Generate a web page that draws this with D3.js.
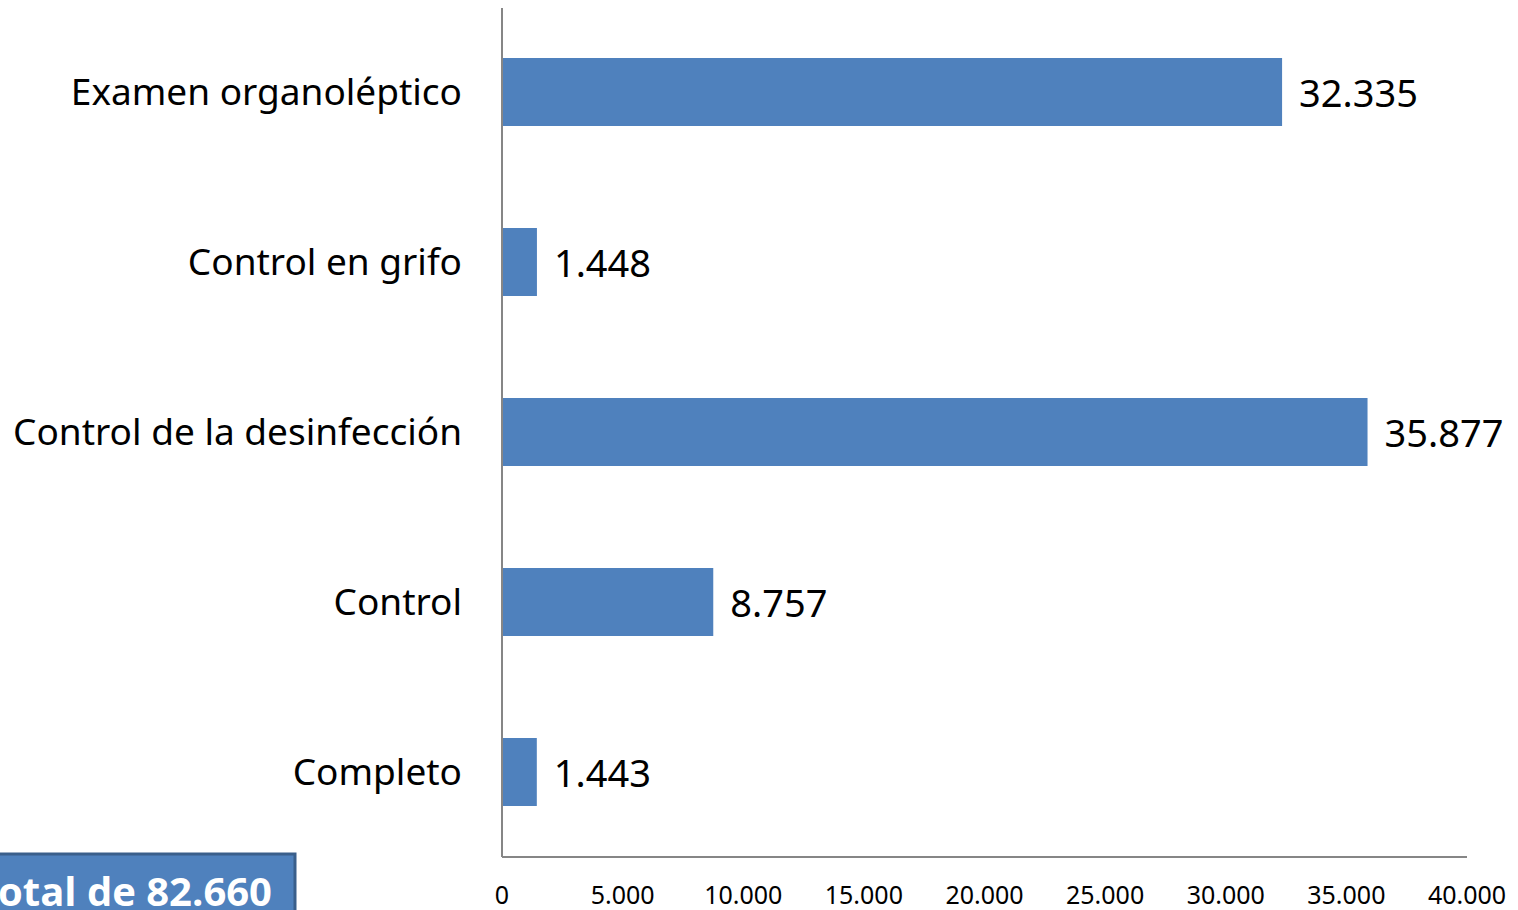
<!DOCTYPE html>
<html>
<head>
<meta charset="utf-8">
<script src="https://cdn.jsdelivr.net/npm/d3@7"></script>
<style>
  body { margin: 0; background: #fff; }
  svg { display: block; }
</style>
</head>
<body>
<svg id="chart"></svg>
<script>
// categories top to bottom
const categories = ["Examen organoléptico", "Control en grifo", "Control de la desinfección", "Control", "Completo"];
const values = [32335, 1448, 35877, 8757, 1443];
const valueLabels = ["32.335", "1.448", "35.877", "8.757", "1.443"];
const tickValues = [0, 5000, 10000, 15000, 20000, 25000, 30000, 35000, 40000];
const tickLabels = ["0", "5.000", "10.000", "15.000", "20.000", "25.000", "30.000", "35.000", "40.000"];
const totalText = "Total de 82.660";

const W = 1518, H = 910;
var svg = d3.select("#chart").attr("width", W).attr("height", H);

var x = d3.scaleLinear().domain([0, 40000]).range([502, 1467]);
var y = d3.scaleBand().domain(categories).range([7, 857]).paddingInner(0.6).paddingOuter(0.3);

// bars
svg.append("g").selectAll("rect")
  .data(values)
  .join("rect")
  .attr("x", x(0))
  .attr("y", (d, i) => y(categories[i]))
  .attr("width", d => x(d) - x(0))
  .attr("height", y.bandwidth())
  .attr("fill", "#4f81bd");

// axes lines
svg.append("line").attr("x1", x(0)).attr("x2", x(0)).attr("y1", 8).attr("y2", 857)
  .attr("stroke", "#868686").attr("stroke-width", 2);
svg.append("line").attr("x1", x(0)).attr("x2", x(40000)).attr("y1", 857).attr("y2", 857)
  .attr("stroke", "#868686").attr("stroke-width", 2);

// category labels
svg.append("g").selectAll("text")
  .data(categories)
  .join("text")
  .attr("x", 462)
  .attr("y", d => y(d) + y.bandwidth() / 2)
  .attr("dy", "0.35em")
  .attr("text-anchor", "end")
  .attr("font-family", "'Noto Sans', sans-serif")
  .attr("font-size", 37)
  .attr("fill", "#000")
  .text(d => d);

// value labels
svg.append("g").selectAll("text")
  .data(values)
  .join("text")
  .attr("x", d => x(d) + 17)
  .attr("y", (d, i) => y(categories[i]) + y.bandwidth() / 2 + 2)
  .attr("dy", "0.35em")
  .attr("font-family", "'Noto Sans', sans-serif")
  .attr("font-size", 38)
  .attr("fill", "#000")
  .text((d, i) => valueLabels[i]);

// x tick labels
svg.append("g").selectAll("text")
  .data(tickValues)
  .join("text")
  .attr("x", d => x(d))
  .attr("y", 895)
  .attr("dy", "0.35em")
  .attr("text-anchor", "middle")
  .attr("font-family", "'Liberation Sans Narrow', 'Noto Sans', sans-serif")
  .attr("font-size", 25)
  .attr("fill", "#000")
  .text((d, i) => tickLabels[i]);

// total box (cut by the page edge, as in the source)
svg.append("rect")
  .attr("x", -20).attr("y", 854)
  .attr("width", 315).attr("height", 80)
  .attr("fill", "#4f81bd")
  .attr("stroke", "#3a5f8b")
  .attr("stroke-width", 3);
svg.append("text")
  .attr("x", 272).attr("y", 906)
  .attr("text-anchor", "end")
  .attr("font-family", "'Open Sans', sans-serif")
  .attr("font-weight", "bold")
  .attr("font-size", 40)
  .attr("fill", "#fff")
  .text(totalText);
</script>
</body>
</html>
